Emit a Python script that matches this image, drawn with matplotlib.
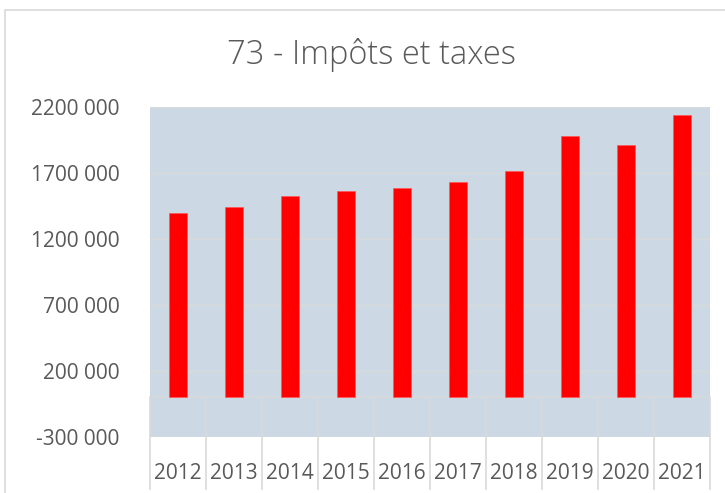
import matplotlib
matplotlib.use('Agg')
import matplotlib.pyplot as plt
from matplotlib.patches import Rectangle

years = ['2012', '2013', '2014', '2015', '2016', '2017', '2018', '2019', '2020', '2021']
values = [1395000, 1442000, 1523000, 1567000, 1586000, 1635000, 1713000, 1983000, 1915000, 2142000]
y_ticks = [-300000, 200000, 700000, 1200000, 1700000, 2200000]
y_tick_labels = ['-300 000', '200 000', '700 000', '1200 000', '1700 000', '2200 000']
title = '73 - Impôts et taxes'

text_color = '#595959'
grid_color = '#D9D9D9'
plot_bg = '#CCD9E5'

plt.rcParams['font.family'] = ['Open Sans', 'DejaVu Sans']

fig = plt.figure(figsize=(7.25, 4.93), dpi=100)
W, H = 725, 493
ax = fig.add_axes([150 / W, (H - 437) / H, 560 / W, 330 / H])
ax.set_facecolor(plot_bg)

# chart frame (runs off the right and bottom edges)
fig.patches.append(Rectangle((5 / W, -0.1), 1.2, 1.1 - 10 / H, transform=fig.transFigure,
                             fill=False, edgecolor=grid_color, linewidth=1.2))

x = list(range(len(years)))
ax.bar(x, values, width=0.31, color='#FF0000', edgecolor='#FF5A5A', linewidth=0.6, zorder=3)

ax.set_xlim(-0.5, len(years) - 0.5)
ax.set_ylim(-300000, 2200000)
ax.set_yticks(y_ticks)
ax.set_yticklabels(y_tick_labels)
for t in y_ticks:
    ax.axhline(t, color=grid_color, linewidth=1, zorder=1)
ax.axhline(0, color=grid_color, linewidth=1.2, zorder=2)

# category separators running from the zero line down below the plot
for b in range(len(years) + 1):
    ax.plot([b - 0.5, b - 0.5], [0, -694000], color=grid_color, linewidth=1.2,
            clip_on=False, zorder=2)

ax.set_xticks(x)
ax.set_xticklabels(years)
ax.tick_params(axis='x', length=0, pad=19, labelsize=15, labelcolor=text_color)
ax.tick_params(axis='y', length=0, pad=22, labelsize=15, labelcolor=text_color)
for s in ax.spines.values():
    s.set_visible(False)

fig.text(371 / W, 1 - 55 / H, title, ha='center', va='center',
         fontsize=23.5, fontweight='light', color=text_color)

plt.savefig('out.png', dpi=100)
